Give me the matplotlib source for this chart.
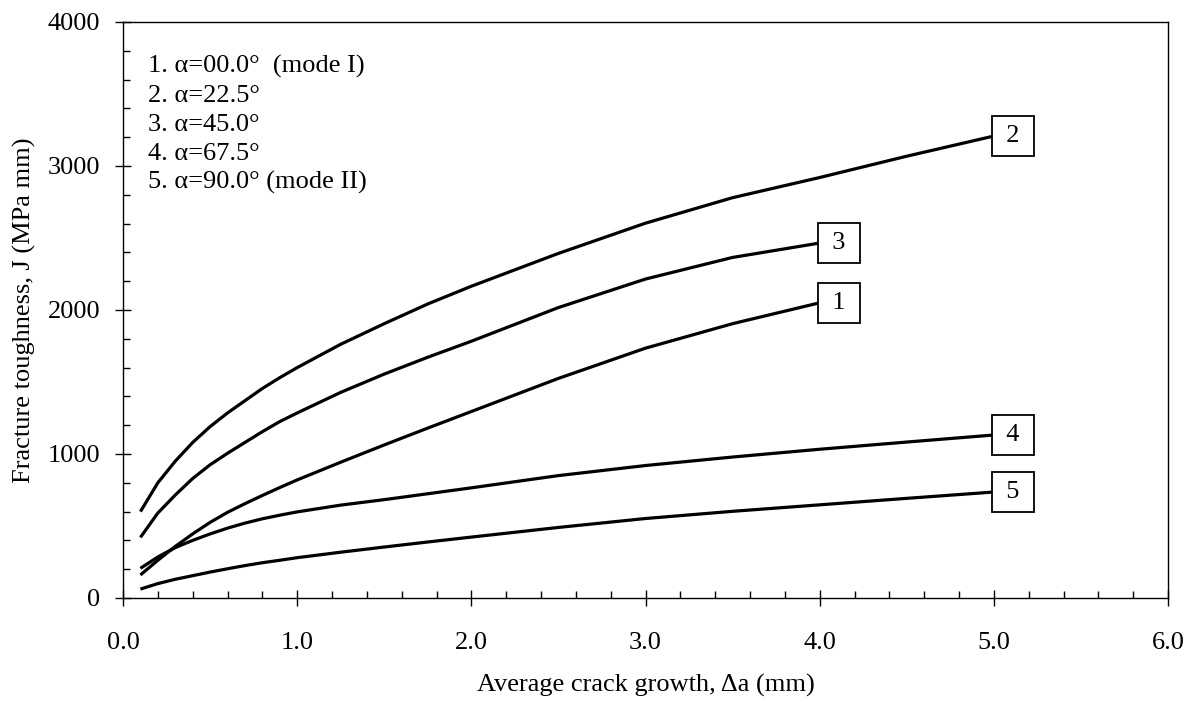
import numpy as np
import matplotlib
matplotlib.use("Agg")
import matplotlib.pyplot as plt
from matplotlib.ticker import MultipleLocator, FormatStrFormatter

plt.rcParams['font.family'] = ['Liberation Serif', 'DejaVu Serif']
plt.rcParams['font.size'] = 19

# curve values (crack growth in mm, J in MPa mm)
x_short = [0.1, 0.2, 0.3, 0.4, 0.5, 0.6, 0.7, 0.8, 0.9, 1.0,
           1.25, 1.5, 1.75, 2.0, 2.5, 3.0, 3.5, 4.0]
x_long = x_short + [4.5, 5.0]

j1 = [160, 262, 358, 445, 525, 595, 655, 712, 767, 820,
      943, 1063, 1180, 1295, 1525, 1735, 1905, 2050]
j2 = [600, 800, 950, 1080, 1190, 1285, 1370, 1455, 1530, 1600,
      1762, 1905, 2042, 2165, 2393, 2603, 2780, 2920, 3068, 3208]
j3 = [421, 590, 715, 830, 925, 1005, 1080, 1155, 1225, 1285,
      1428, 1555, 1672, 1783, 2017, 2215, 2365, 2465]
j4 = [206, 285, 350, 400, 445, 485, 520, 550, 575, 598,
      645, 683, 724, 765, 850, 920, 979, 1033, 1083, 1132]
j5 = [62, 100, 130, 155, 180, 203, 225, 245, 262, 280,
      318, 354, 389, 423, 490, 552, 602, 647, 692, 736]

curve_ids = ["1", "2", "3", "4", "5"]
legend_lines = ["1. \u03b1=00.0\u00b0  (mode I)",
                "2. \u03b1=22.5\u00b0",
                "3. \u03b1=45.0\u00b0",
                "4. \u03b1=67.5\u00b0",
                "5. \u03b1=90.0\u00b0 (mode II)"]

fig = plt.figure(figsize=(11.94, 7.02), dpi=100)
ax = fig.add_axes([123/1194, 1-598/702, (1168-123)/1194, (598-22)/702])

curves = [(x_short, j1), (x_long, j2), (x_short, j3), (x_long, j4), (x_long, j5)]
for cid, (xs, js) in zip(curve_ids, curves):
    ax.plot(xs, js, color='black', lw=2.3, solid_capstyle='butt')
    # numbered box sitting at the end of each curve
    ax.annotate("\u2009" + cid + "\u2009", xy=(xs[-1], js[-1]), xytext=(14, 0),
                textcoords='offset points', ha='center', va='center', fontsize=19,
                bbox=dict(boxstyle='square,pad=0.34', fc='white', ec='black', lw=1.3))

for i, t in enumerate(legend_lines):
    ax.text(0.024, 0.922 - i*0.0503, t, transform=ax.transAxes,
            ha='left', va='center', fontsize=19)

ax.set_xlim(0, 6)
ax.set_ylim(0, 4000)
ax.xaxis.set_major_locator(MultipleLocator(1.0))
ax.xaxis.set_minor_locator(MultipleLocator(0.2))
ax.xaxis.set_major_formatter(FormatStrFormatter('%.1f'))
ax.yaxis.set_major_locator(MultipleLocator(1000))
ax.yaxis.set_minor_locator(MultipleLocator(200))
ax.tick_params(which='major', direction='inout', length=11, width=1.0, labelsize=19)
ax.tick_params(which='minor', direction='in', length=5, width=1.0)
ax.tick_params(axis='x', which='major', pad=19)
ax.tick_params(axis='y', which='major', pad=11)
for s in ax.spines.values():
    s.set_linewidth(1.0)

ax.set_xlabel("Average crack growth, \u0394a (mm)", fontsize=19, labelpad=14)
ax.set_ylabel("Fracture toughness, J (MPa mm)", fontsize=19, labelpad=8)

fig.savefig("out.png", dpi=100)
